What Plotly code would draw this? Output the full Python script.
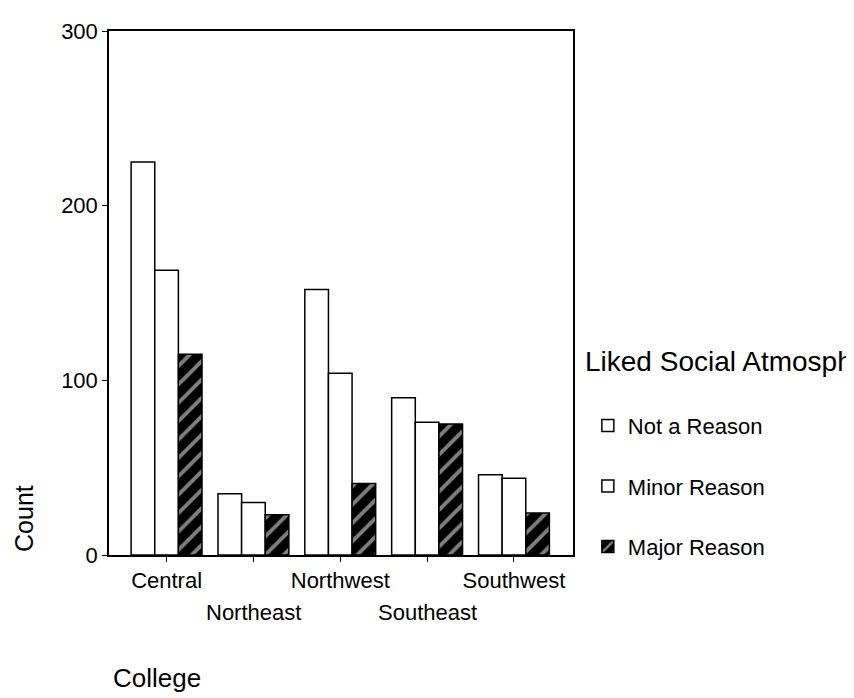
import plotly.graph_objects as go

colleges = ["Central", "Northeast", "Northwest", "Southeast", "Southwest"]
not_a_reason = [225, 35, 152, 90, 46]
minor_reason = [163, 30, 104, 76, 44]
major_reason = [115, 23, 41, 75, 24]
upper_labels = ["Central", "Northwest", "Southwest"]
lower_labels = ["Northeast", "Southeast"]
y_ticks = [0, 100, 200, 300]

FONT = "Liberation Sans, Arial, sans-serif"

fig = go.Figure()
fig.add_trace(go.Bar(x=colleges, y=not_a_reason, name="Not a Reason", legendgroup="a",
                     marker=dict(color="white", line=dict(color="black", width=1.5))))
fig.add_trace(go.Bar(x=colleges, y=minor_reason, name="Minor Reason", legendgroup="b",
                     marker=dict(color="white", line=dict(color="black", width=1.5))))
fig.add_trace(go.Bar(x=colleges, y=major_reason, name="Major Reason", legendgroup="c",
                     marker=dict(color="black", line=dict(color="black", width=1.5),
                                 pattern=dict(shape="/", fgcolor="white", bgcolor="black",
                                              size=13, solidity=0.3))))

for lab in lower_labels:
    fig.add_annotation(x=lab, xref="x", y=0, yref="paper", yanchor="middle", text=lab,
                       showarrow=False, yshift=-57, font=dict(size=22, color="black"))

fig.add_annotation(text="Count", textangle=-90, xref="paper", yref="paper",
                   x=-0.183, y=0.069, xanchor="center", yanchor="middle", showarrow=False,
                   font=dict(size=25, color="black"))
fig.add_annotation(text="College", xref="paper", yref="paper",
                   x=0.103, y=-0.235, xanchor="center", yanchor="middle", showarrow=False,
                   font=dict(size=26, color="black"))
fig.add_annotation(text="Liked Social Atmosph", xref="paper", yref="paper",
                   x=1.0216, y=0.37, xanchor="left", yanchor="middle", showarrow=False,
                   font=dict(size=28, color="black"))

fig.update_layout(
    width=846, height=690,
    margin=dict(l=101, r=281, t=11, b=143),
    paper_bgcolor="white", plot_bgcolor="white",
    font=dict(family=FONT, size=22, color="black"),
    barmode="group", bargap=0.184, bargroupgap=0,
    showlegend=True,
    legend=dict(x=1.032, y=0.287, xanchor="left", yanchor="top",
                font=dict(size=22), tracegroupgap=29, traceorder="grouped",
                itemwidth=30, bgcolor="rgba(0,0,0,0)"),
    xaxis=dict(type="category", range=[-0.663, 4.68], showline=True, linecolor="black",
               linewidth=1.5, mirror=True, ticks="outside", ticklen=5, tickcolor="black",
               tickvals=colleges,
               ticktext=[c if c in upper_labels else "" for c in colleges],
               showgrid=False, zeroline=False),
    yaxis=dict(range=[0, 300], tickvals=y_ticks, showline=True, linecolor="black",
               linewidth=1.5, mirror=True, ticks="outside", ticklen=5, tickcolor="black",
               showgrid=False, zeroline=False),
)

fig.write_html("out.html")
